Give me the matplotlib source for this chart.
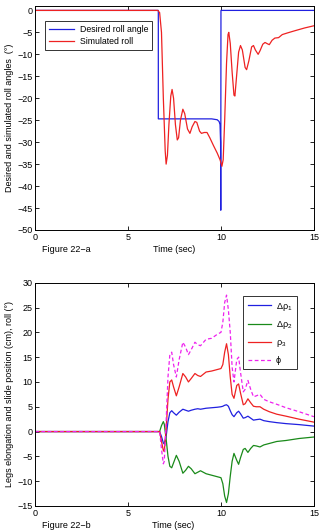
import matplotlib
matplotlib.use("Agg")
import matplotlib.pyplot as plt

plt.rcParams["font.family"] = ["Liberation Sans", "DejaVu Sans"]
plt.rcParams["mathtext.fontset"] = "custom"
plt.rcParams["mathtext.rm"] = "Liberation Sans"
plt.rcParams["mathtext.it"] = "Liberation Sans"
plt.rcParams["font.size"] = 6.5

# ---- Figure 22-a data (time in sec, angles in deg)
t_desired = [0, 6.63, 6.63, 9.5, 9.8, 9.9, 9.95, 9.98, 9.99, 10.0, 15]
roll_desired = [0, 0, -24.7, -24.7, -24.9, -25.3, -26.0, -30.0, -45.5, 0, 0]

t_roll = [0, 6.6, 6.7, 6.8, 6.9, 7.0, 7.05, 7.12, 7.2, 7.3, 7.37, 7.45, 7.55,
          7.65, 7.72, 7.82, 7.95, 8.05, 8.2, 8.33, 8.45, 8.6, 8.7, 8.85, 8.95,
          9.1, 9.25, 9.4, 9.6, 9.8, 9.95, 10.05, 10.12, 10.2, 10.3, 10.38,
          10.42, 10.5, 10.6, 10.7, 10.75, 10.82, 10.95, 11.05, 11.15, 11.3,
          11.38, 11.5, 11.65, 11.75, 11.85, 12.0, 12.1, 12.25, 12.37, 12.5,
          12.6, 12.75, 12.9, 13.1, 13.3, 13.6, 14.0, 14.5, 15]
roll_sim = [0, 0, -0.5, -5, -20, -32, -35, -33, -26, -19.5, -18, -20, -26,
            -29.5, -29, -25, -22.5, -23.5, -27, -28, -26.5, -25.3, -25.5,
            -27.5, -28, -27.8, -27.8, -29, -30.8, -32.5, -34, -35.5, -34, -25,
            -12, -5.5, -5, -7.5, -14, -19.3, -19.5, -16, -9.5, -8, -9, -13,
            -13.5, -11.5, -8.3, -8, -9, -10, -9.2, -7.7, -7.3, -7.6, -7.8,
            -6.8, -6.3, -6.2, -5.5, -5.1, -4.6, -4.0, -3.5]

# ---- Figure 22-b data
t_b = [0, 6.7, 6.8, 6.9, 6.95, 7.05, 7.15, 7.25, 7.35, 7.45, 7.6, 7.75,
       7.95, 8.1, 8.25, 8.4, 8.6, 8.75, 8.9, 9.2, 9.5, 9.8, 10.0, 10.1, 10.2,
       10.3, 10.4, 10.5, 10.6, 10.7, 10.85, 10.95, 11.05, 11.2, 11.3, 11.45,
       11.6, 11.75, 11.9, 12.1, 12.3, 12.6, 13.0, 13.5, 14.2, 15]
drho1 = [0, 0, -1.0, -2.3, -2.5, -1.0, 2.0, 3.8, 4.2, 3.8, 3.3, 3.9, 4.5,
         4.3, 4.1, 4.3, 4.5, 4.6, 4.5, 4.7, 4.8, 4.9, 5.0, 5.1, 5.3, 5.4,
         5.1, 4.2, 3.4, 3.0, 3.8, 4.1, 3.6, 2.7, 2.8, 3.1, 2.7, 2.3, 2.4,
         2.5, 2.2, 2.0, 1.8, 1.6, 1.4, 1.1]
drho2 = [0, 0, 1.2, 2.0, 1.5, -1.5, -5.0, -7.0, -7.3, -6.3, -4.8, -6.0,
         -8.4, -7.8, -7.0, -7.5, -8.5, -8.2, -7.9, -8.5, -8.8, -9.1, -9.3,
         -10.5, -13.0, -14.3, -12.5, -9.0, -6.0, -4.4, -5.8, -6.6, -5.3,
         -3.6, -3.4, -4.2, -3.4, -2.8, -2.9, -3.1, -2.7, -2.4, -2.0, -1.8,
         -1.4, -1.1]
rho3 = [0, 0, -2.0, -3.8, -4.0, 0.5, 6.5, 10.0, 10.4, 9.0, 7.2, 9.0, 11.7,
        11.0, 10.0, 10.7, 11.7, 11.3, 11.1, 12.0, 12.2, 12.5, 12.7, 13.5,
        16.0, 17.7, 15.5, 11.0, 7.5, 6.7, 9.3, 9.6, 7.8, 5.4, 5.6, 6.6, 5.8,
        5.1, 5.0, 5.0, 4.5, 4.0, 3.5, 3.1, 2.5, 1.9]
phi = [0, 0, -3.5, -6.5, -6.0, 2.0, 11.0, 15.5, 16.0, 13.5, 11.0, 14.5,
       18.0, 17.0, 15.5, 16.5, 18.0, 17.5, 17.3, 18.6, 18.8, 19.6, 20.0,
       22.0, 26.0, 27.5, 24.5, 20.0, 13.0, 10.0, 14.5, 15.0, 12.0, 8.0, 8.5,
       10.3, 8.5, 7.0, 7.2, 7.5, 6.5, 6.0, 5.5, 4.8, 4.0, 3.0]


def style_axes(ax, ylim, yticks):
    ax.set_xlim(0, 15)
    ax.set_ylim(*ylim)
    ax.set_xticks([0, 5, 10, 15])
    ax.set_yticks(yticks)
    ax.tick_params(direction="in", top=True, right=True, length=3,
                   width=0.6, labelsize=6.5, pad=2)
    for s in ax.spines.values():
        s.set_linewidth(0.7)


fig = plt.figure(figsize=(3.19, 5.32), dpi=100)

# ---- top panel
ax1 = fig.add_axes([0.110, 0.5677, 0.874, 0.421])
ax1.plot(t_desired, roll_desired, color="#2020e0", lw=0.9, label="Desired roll angle")
ax1.plot(t_roll, roll_sim, color="#ee2222", lw=0.9, label="Simulated roll")
style_axes(ax1, (-50, 1), list(range(-50, 1, 5)))
ax1.set_ylabel("Desired and simulated roll angles  (°)", fontsize=6.5, labelpad=2)
leg1 = ax1.legend(loc="upper left", bbox_to_anchor=(0.036, 0.934), fancybox=False,
                  edgecolor="black", fontsize=6.3, handlelength=2.9,
                  borderpad=0.45, labelspacing=0.35, borderaxespad=0,
                  handletextpad=0.6)
leg1.get_frame().set_linewidth(0.7)
fig.text(0.131, 1 - 249 / 532, "Figure 22\u2212a", fontsize=6.5, va="center")
fig.text(0.547, 1 - 249 / 532, "Time (sec)", fontsize=6.5, ha="center", va="center")

# ---- bottom panel
ax2 = fig.add_axes([0.110, 0.0489, 0.874, 0.4197])
ax2.plot(t_b, drho1, color="#2020e0", lw=0.9, label=r"$\mathrm{\Delta\rho_1}$")
ax2.plot(t_b, drho2, color="#1a8a1a", lw=0.9, label=r"$\mathrm{\Delta\rho_2}$")
ax2.plot(t_b, rho3, color="#ee2222", lw=0.9, label=r"$\mathrm{\rho_3}$")
ax2.plot(t_b, phi, color="#ee22ee", lw=0.9, ls=(0, (3, 2)), label="ϕ")
style_axes(ax2, (-15, 30), list(range(-15, 31, 5)))
ax2.set_ylabel("Legs elongation and slide position (cm), roll (°)", fontsize=6.5, labelpad=2)
leg2 = ax2.legend(loc="upper right", bbox_to_anchor=(0.938, 0.94), fancybox=False,
                  edgecolor="black", fontsize=6.5, handlelength=2.6,
                  borderpad=0.5, labelspacing=0.75, borderaxespad=0,
                  handletextpad=0.5)
leg2.get_frame().set_linewidth(0.7)
fig.text(0.131, 1 - 526 / 532, "Figure 22\u2212b", fontsize=6.5, va="center")
fig.text(0.542, 1 - 526 / 532, "Time (sec)", fontsize=6.5, ha="center", va="center")

fig.savefig("out.png", dpi=100)
